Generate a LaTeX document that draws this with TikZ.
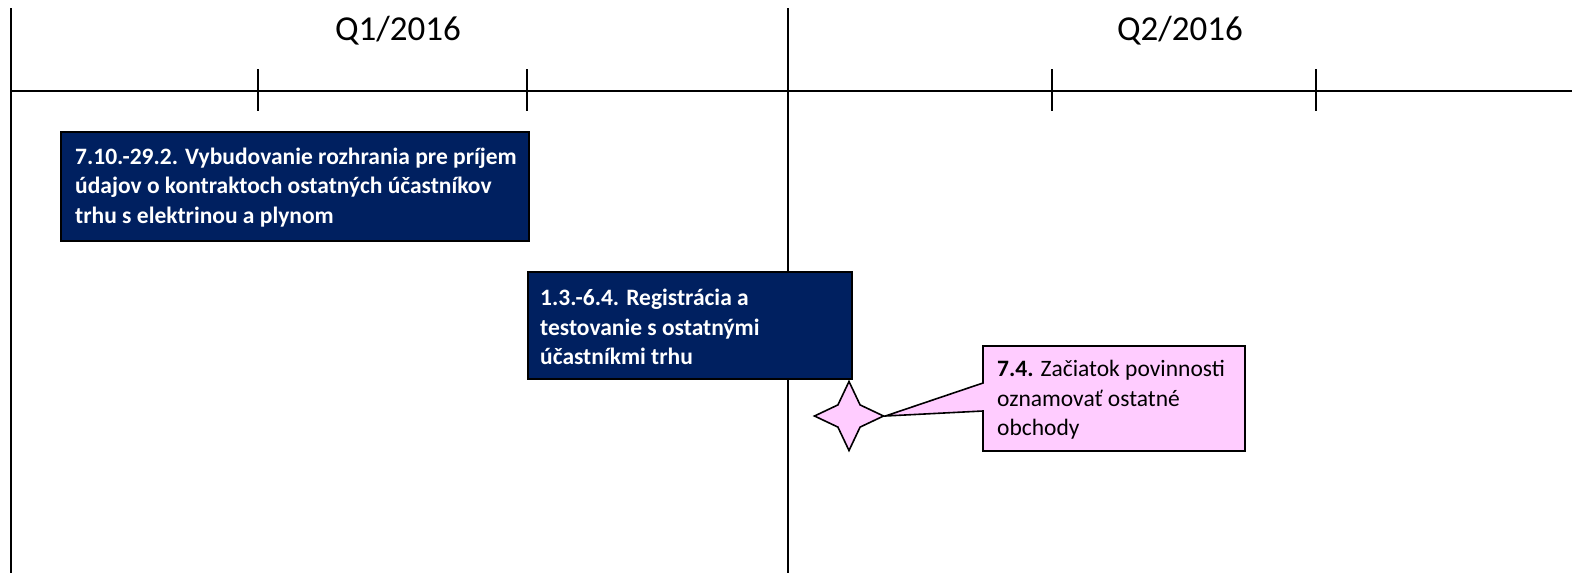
\documentclass[tikz,border=0pt]{standalone}
\usepackage{fontspec}
\setmainfont{Carlito}
\usetikzlibrary{shapes.geometric,backgrounds,calc}
\definecolor{navy}{RGB}{0,32,96}
\definecolor{pinkfill}{RGB}{255,204,255}
\begin{document}
\begin{tikzpicture}[x=1pt,y=-1pt,
  axisline/.style={line width=2pt,black},
  tickline/.style={line width=2pt,black},
  quarterlabel/.style={font=\fontsize{35}{40}\selectfont,text=black,inner sep=0pt},
  taskframe/.style={draw=black,line width=1.6pt,fill=navy,rectangle,anchor=north west,inner sep=0pt},
  tasktext/.style={text=white,font=\fontsize{23.5}{29.5}\selectfont\bfseries,align=left,anchor=west,inner sep=0pt},
  calloutframe/.style={draw=black,line width=1.6pt,fill=pinkfill},
  callouttext/.style={text=black,font=\fontsize{23.5}{29.5}\selectfont,align=left,anchor=west,inner sep=0pt},
  milestone/.style={star,star points=4,star point ratio=2.2,minimum size=69pt,inner sep=0pt,draw=black,line width=1.6pt,fill=pinkfill}
]
\useasboundingbox (0,0) rectangle (1572,573);
% axis lines
\coordinate (lefttop) at (11,8);
\coordinate (leftbot) at (11,573);
\coordinate (qtop) at (788,8);
\coordinate (qbot) at (788,573);
\coordinate (axl) at (11,91);
\coordinate (axr) at (1572,91);
\draw[axisline] (lefttop) -- (leftbot);
\draw[axisline] (qtop) -- (qbot);
\draw[axisline] (axl) -- (axr);
\foreach \tx/\nm in {258/ta,527/tb,1052/tc,1316/td}{
  \coordinate (\nm top) at (\tx,69);
  \coordinate (\nm bot) at (\tx,111);
  \draw[tickline] (\nm top) -- (\nm bot);
}
\node[quarterlabel] (q1) at (398,31) {Q1/2016};
\node[quarterlabel] (q2) at (1180,31) {Q2/2016};
% task 1
\node[taskframe,minimum width=468pt,minimum height=109pt] (box1) at (60,131) {};
\node[tasktext] (box1text) at ($(box1.west)+(15,1)$) {7.10.-29.2. Vybudovanie rozhrania pre príjem\\údajov o kontraktoch ostatných účastníkov\\trhu s elektrinou a plynom};
% task 2
\node[taskframe,minimum width=324pt,minimum height=107pt] (box2) at (527,271) {};
\node[tasktext] (box2text) at ($(box2.west)+(13,2)$) {1.3.-6.4. Registrácia a\\testovanie s ostatnými\\účastníkmi trhu};
% milestone
\node[milestone] (star) at (849,416) {};
% callout
\coordinate (cnw) at (983,346);
\coordinate (cne) at (1245,346);
\coordinate (cse) at (1245,451);
\coordinate (csw) at (983,451);
\coordinate (cb1) at (983,383);
\coordinate (cb2) at (983,411);
\node[callouttext] (calltext) at (997,400) {\textbf{7.4.} Začiatok povinnosti\\oznamovať ostatné\\obchody};
\begin{scope}[on background layer]
\draw[calloutframe] (cnw) -- (cne) -- (cse) -- (csw) -- (cb2) -- (star.east) -- (cb1) -- cycle;
\end{scope}
\end{tikzpicture}
\end{document}
